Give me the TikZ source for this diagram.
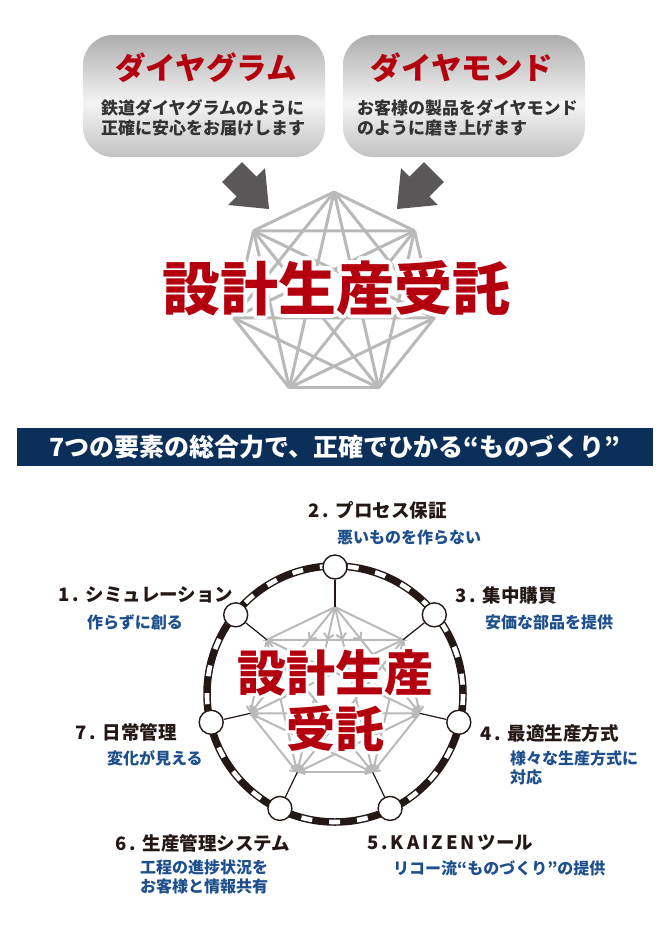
\documentclass[tikz,border=0pt]{standalone}
\usepackage{fontspec}
\setmainfont{Noto Sans CJK JP}
\usepackage{xcolor}
\usepackage{tikz}
\usepackage{contour}
\usetikzlibrary{positioning,calc,arrows.meta,decorations.markings}

\definecolor{brandred}{HTML}{B4000E}
\definecolor{meshgray}{HTML}{B9B9B9}
\definecolor{arrgray}{HTML}{595757}
\definecolor{navy}{HTML}{0C2F5A}
\definecolor{inkblack}{HTML}{231815}
\definecolor{inkgray}{HTML}{333333}
\definecolor{subblue}{HTML}{1D4F8C}
\definecolor{paneltop}{HTML}{ADADAD}
\definecolor{panelmid}{HTML}{F4F4F4}
\definecolor{panelbot}{HTML}{C2C2C2}

\pgfdeclareverticalshading{metal}{100bp}{color(0bp)=(panelbot); color(25bp)=(panelbot); color(47bp)=(panelmid); color(75bp)=(paneltop); color(100bp)=(paneltop)}

\tikzstyle{panel} = [rounded corners=30pt, shading=metal, minimum width=242pt, minimum height=122pt, inner sep=0pt]
\tikzstyle{paneltitle} = [text=brandred, font=\fontsize{30.5}{36}\selectfont\bfseries, inner sep=0pt]
\tikzstyle{panelsub} = [text=inkgray, font=\fontsize{17}{20}\selectfont\bfseries, align=left, inner sep=0pt, anchor=west]
\tikzstyle{meshline} = [draw=meshgray, line width=3pt, line join=round]
\tikzstyle{bigred} = [text=brandred, font=\fontsize{58}{64}\selectfont\bfseries, inner sep=0pt]
\tikzstyle{midred} = [text=brandred, font=\fontsize{49}{56}\selectfont\bfseries, inner sep=0pt]
\tikzstyle{banner} = [fill=navy, text=white, minimum width=636pt, minimum height=38pt, inner sep=0pt, font=\fontsize{25}{28}\selectfont\bfseries]
\tikzstyle{trackbed} = [draw=inkblack, line width=7.5pt]
\tikzstyle{tracktie} = [draw=white, line width=4.6pt, dash pattern=on 11pt off 17pt]
\tikzstyle{station} = [circle, draw=inkblack, line width=1.4pt, fill=white, minimum size=24pt, inner sep=0pt]
\tikzstyle{spoke} = [draw=inkblack, line width=1.2pt]
\tikzstyle{flow} = [draw=meshgray, line width=2pt]
\tikzstyle{elemhead} = [text=inkblack, font=\fontsize{18.5}{22}\selectfont\bfseries, inner sep=0pt, anchor=west]
\tikzstyle{elemsub} = [text=subblue, font=\fontsize{16}{19}\selectfont\bfseries, align=left, inner sep=0pt, anchor=west]
\tikzset{
  tipend/.style={-{Straight Barb[length=5pt,width=10pt]}},
  tipboth/.style={{Straight Barb[length=5pt,width=10pt]}-{Straight Barb[length=5pt,width=10pt]}},
  midtip/.style={postaction={decorate}, decoration={markings, mark=at position #1 with {\arrow{Straight Barb[length=5pt,width=10pt]}}}}
}
\newcommand{\elemno}[1]{#1\hspace{3pt}.\hspace{7pt}}

\begin{document}
\begin{tikzpicture}[x=1pt, y=-1pt]
    \useasboundingbox (0,0) rectangle (670,938);

    % two panels on top
    \node[panel] (dgram) at (204,96) {};
    \node[panel] (dmond) at (464,96) {};
    \node[paneltitle] (dgramT) at (206,68) {ダイヤグラム};
    \node[paneltitle] (dmondT) at (462,68) {ダイヤモンド};
    \node[panelsub] (dgramS) at (101,118) {鉄道ダイヤグラムのように\\正確に安心をお届けします};
    \node[panelsub] (dmondS) at (357,118) {お客様の製品をダイヤモンド\\のように磨き上げます};

    \foreach \tx/\sx in {269/1,397/-1}
        \fill[arrgray, shift={(\tx,209)}, xscale=\sx] (0,0) -- (-41,-4) -- (-32.4,-12.6) -- (-47,-27)
            -- (-27,-47) -- (-12.6,-32.4) -- (-4,-41) -- cycle;

    % diamond mesh
    \coordinate (crown) at (334,295);
    \foreach \k in {0,...,6}
        \coordinate (t\k) at ($(crown)+({-90+\k*360/7}:103)$);
    \foreach \a in {0,...,6}
        \foreach \b in {0,...,6} {
            \ifnum\a<\b \draw[meshline] (t\a) -- (t\b); \fi
        }
    \node[bigred] (service) at (336,290) {\contourlength{4pt}\contour{white}{設計生産受託}};

    \node[banner] (motto) at (335,447) {7つの要素の総合力で、正確でひかる“ものづくり”};

    % wheel
    \coordinate (hub) at (335,694);
    \foreach \k in {0,...,6}
        \coordinate (i\k) at ($(hub)+({-90+\k*360/7}:87)$);
    \draw[flow] (i0) -- (i1) -- (i6) -- cycle;
    \draw[flow] (i3) -- (i4);
    \foreach \b/\p in {2/0.31,3/0.2,4/0.2,5/0.31}
        \draw[flow, tipend, midtip=\p] (i0) -- (i\b);
    \foreach \a/\b in {1/2,1/3,1/4,1/5,6/2,6/3,6/4,6/5,2/3,5/4,2/4,5/3}
        \draw[flow, tipend] (i\a) -- (i\b);
    \draw[flow, tipboth] (i5) -- (i2);

    \draw[trackbed] (hub) circle[radius=128];
    \draw[tracktie] (hub) circle[radius=128];
    \foreach \n/\k in {1/6,2/0,3/1,4/2,5/3,6/4,7/5} {
        \node[station] (n\n) at ($(hub)+({-90+\k*360/7}:127)$) {};
        \draw[spoke] (n\n) -- (i\k);
    }

    \node[midred] (core1) at (335,674) {\contourlength{3pt}\contour{white}{設計生産}};
    \node[midred] (core2) at (335,730) {\contourlength{3pt}\contour{white}{受託}};

    % seven elements
    \node[elemhead] (h1) at (58,595) {\elemno{1}シミュレーション};
    \node[elemsub] (s1) at (87,622) {作らずに創る};
    \node[elemhead] (h2) at (308,510) {\elemno{2}プロセス保証};
    \node[elemsub] (s2) at (337,537) {悪いものを作らない};
    \node[elemhead] (h3) at (455,595) {\elemno{3}集中購買};
    \node[elemsub] (s3) at (485,622) {安価な部品を提供};
    \node[elemhead] (h4) at (480,733) {\elemno{4}最適生産方式};
    \node[elemsub] (s4) at (510,768) {様々な生産方式に\\対応};
    \node[elemhead] (h5) at (367,843) {5\hspace{3pt}.\hspace{3pt}K\hspace{3pt}A\hspace{3pt}I\hspace{3pt}Z\hspace{3pt}E\hspace{3pt}N\hspace{3pt}ツール};
    \node[elemsub] (s5) at (393,868) {リコー流“ものづくり”の提供};
    \node[elemhead] (h6) at (115,843) {\elemno{6}生産管理システム};
    \node[elemsub] (s6) at (140,877) {工程の進捗状況を\\お客様と情報共有};
    \node[elemhead] (h7) at (75,732) {\elemno{7}日常管理};
    \node[elemsub] (s7) at (107,758) {変化が見える};
\end{tikzpicture}
\end{document}
